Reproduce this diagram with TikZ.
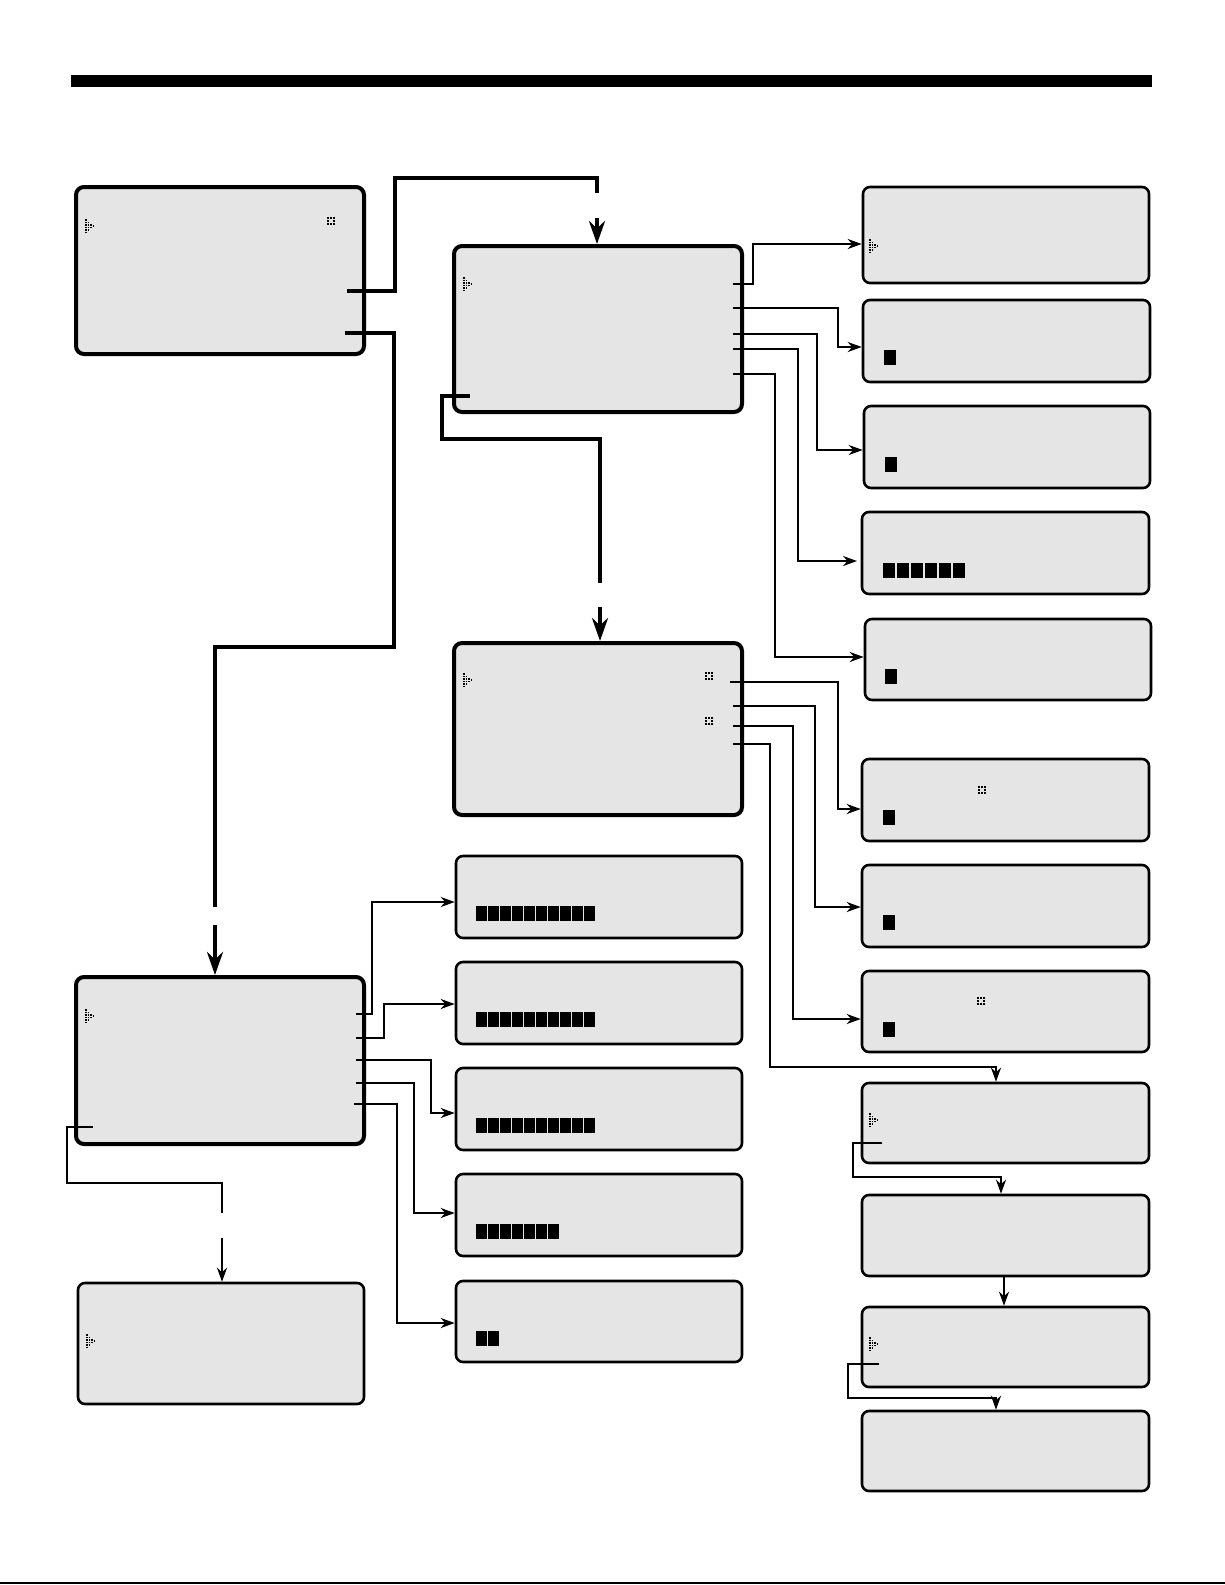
\documentclass[tikz,border=0pt]{standalone}
\usetikzlibrary{arrows.meta}
\definecolor{panel}{HTML}{E5E5E5}
\tikzset{
  thickbox/.style={draw, line width=2pt, fill=panel, rounded corners=4pt, inner sep=0pt},
  thinbox/.style={draw, line width=1.3pt, fill=panel, rounded corners=3.5pt, inner sep=0pt},
  thickline/.style={line width=2pt},
  thickarrow/.style={line width=2pt, -{Stealth[length=11.5pt,width=8pt]}},
  thinline/.style={line width=1.1pt},
  thinarrow/.style={line width=1.1pt, -{Stealth[length=7pt,width=5pt]}},
}
\newcommand\boxnode[6]{\node[#6, minimum width={(#4-#2)*0.5pt}, minimum height={(#5-#3)*0.5pt}] (#1) at ({(#2+#4)/2},{(#3+#5)/2}) {};}
\newcommand\cursorglyph[2]{\foreach \c/\r in {0/0,0/1,0/2,0/3,0/4,0/5,1/1,1/2,1/3,1/4,2/2,2/3,3/2.5}{\fill ({#1+\c*2.5},{#2+\r*2.5}) rectangle ++(1.9,1.9);}}
\newcommand\dotsquare[2]{\foreach \c/\r in {0/0,1/0,2/0,0/1,2/1,0/2,1/2,2/2}{\fill ({#1+\c*3},{#2+\r*3}) rectangle ++(2,2);}}
\newcommand\blockrow[5]{\foreach \i in {1,...,#3}{\fill ({#1+(\i-1)*#4},#2) rectangle ++(#5,15);}}
\begin{document}
\begin{tikzpicture}[x=0.5pt,y=-0.5pt]
\useasboundingbox (0,0) rectangle (1225,1585);
% top bar and bottom rule
\fill (71,75) rectangle (1152,87);
\draw[line width=1pt] (0,1583) -- (1225,1583);

% main screens
\boxnode{A}{76}{187}{364}{354}{thickbox}
\boxnode{B}{454}{246}{742}{412}{thickbox}
\boxnode{C}{454}{643}{742}{815}{thickbox}
\boxnode{D}{76}{977}{364}{1144}{thickbox}
\boxnode{E}{78}{1283}{364}{1404}{thinbox}
% middle column
\boxnode{M1}{456}{856}{742}{938}{thinbox}
\boxnode{M2}{456}{962}{742}{1044}{thinbox}
\boxnode{M3}{456}{1068}{742}{1150}{thinbox}
\boxnode{M4}{456}{1174}{742}{1256}{thinbox}
\boxnode{M5}{456}{1281}{742}{1362}{thinbox}
% right column
\boxnode{R1}{863}{187}{1149}{283}{thinbox}
\boxnode{R2}{863}{300}{1150}{382}{thinbox}
\boxnode{R3}{864}{406}{1150}{488}{thinbox}
\boxnode{R4}{862}{512}{1149}{594}{thinbox}
\boxnode{R5}{865}{619}{1151}{700}{thinbox}
\boxnode{R6}{862}{759}{1149}{841}{thinbox}
\boxnode{R7}{862}{865}{1149}{947}{thinbox}
\boxnode{R8}{862}{971}{1149}{1052}{thinbox}
\boxnode{R9}{862}{1083}{1149}{1163}{thinbox}
\boxnode{R10}{862}{1195}{1149}{1276}{thinbox}
\boxnode{R11}{862}{1307}{1149}{1387}{thinbox}
\boxnode{R12}{862}{1411}{1149}{1491}{thinbox}

% glyphs: cursors
\cursorglyph{85}{219}
\cursorglyph{463}{277}
\cursorglyph{463}{673}
\cursorglyph{85}{1009}
\cursorglyph{86}{1334}
\cursorglyph{869}{239}
\cursorglyph{869}{1113}
\cursorglyph{869}{1337}
% dotted squares
\dotsquare{327}{217}
\dotsquare{705}{672}
\dotsquare{705}{717}
\dotsquare{978}{786}
\dotsquare{977}{997}
% block rows
\blockrow{476}{906}{10}{12}{10.5}
\blockrow{476}{1012}{10}{12}{10.5}
\blockrow{476}{1118}{10}{12}{10.5}
\blockrow{476}{1224}{7}{12}{10.5}
\blockrow{476}{1331}{2}{12}{10.5}
\blockrow{884}{350}{1}{14}{12}
\blockrow{885}{457}{1}{14}{12}
\blockrow{883}{563}{6}{14}{12}
\blockrow{885}{669}{1}{14}{12}
\blockrow{883}{810}{1}{14}{12}
\blockrow{883}{915}{1}{14}{12}
\blockrow{883}{1022}{1}{14}{12}

% stub coordinates
\coordinate (a1) at (347,291);
\coordinate (a2) at (345,333);
\coordinate (bl) at (470,396);
\coordinate (b1) at (733,284);
\coordinate (b2) at (733,308);
\coordinate (b3) at (733,334);
\coordinate (b4) at (733,349);
\coordinate (b5) at (733,374);
\coordinate (c1) at (730,682);
\coordinate (c2) at (733,706);
\coordinate (c3) at (733,726);
\coordinate (c4) at (733,744);
\coordinate (d1) at (356,1014);
\coordinate (d2) at (356,1038);
\coordinate (d3) at (356,1060);
\coordinate (d4) at (356,1083);
\coordinate (d5) at (354,1104);
\coordinate (dl) at (93,1127);
\coordinate (r9) at (882,1143);
\coordinate (r11) at (879,1364);

% thick connectors with a break
\draw[thickline] (a1) -- (395,291) -- (395,178) -- (597,178) -- (597,193);
\draw[thickarrow] (597,218) -- (B.north -| 597,0);
\draw[thickline] (a2) -- (394,333) -- (394,647) -- (215,647) -- (215,907);
\draw[thickarrow] (215,925) -- (D.north -| 215,0);
\draw[thickline] (bl) -- (442,396) -- (442,439) -- (600,439) -- (600,583);
\draw[thickarrow] (600,607) -- (C.north -| 600,0);
\draw[thinline] (dl) -- (67,1127) -- (67,1183) -- (222,1183) -- (222,1213);
\draw[thinarrow] (222,1238) -- (E.north -| 222,0);

% B to right column
\draw[thinarrow] (b1) -- (753,284) -- (753,244) -- (R1.west |- 0,244);
\draw[thinarrow] (b2) -- (838,308) -- (838,347) -- (R2.west |- 0,347);
\draw[thinarrow] (b3) -- (817,334) -- (817,450) -- (R3.west |- 0,450);
\draw[thinarrow] (b4) -- (798,349) -- (798,561) -- (857,561);
\draw[thinarrow] (b5) -- (775,374) -- (775,657) -- (R5.west |- 0,657);
% C to right column
\draw[thinarrow] (c1) -- (838,682) -- (838,809) -- (R6.west |- 0,809);
\draw[thinarrow] (c2) -- (815,706) -- (815,907) -- (R7.west |- 0,907);
\draw[thinarrow] (c3) -- (793,726) -- (793,1019) -- (R8.west |- 0,1019);
\draw[thinarrow] (c4) -- (770,744) -- (770,1067) -- (996,1067) -- (R9.north -| 996,0);
% right column chain
\draw[thinarrow] (r9) -- (853,1143) -- (853,1177) -- (1001,1177) -- (R10.north -| 1001,0);
\draw[thinarrow] (R10.south -| 1004,0) -- (R11.north -| 1004,0);
\draw[thinarrow] (r11) -- (848,1364) -- (848,1398) -- (996,1398) -- (R12.north -| 996,0);
% D to middle column
\draw[thinarrow] (d1) -- (372,1014) -- (372,902) -- (M1.west |- 0,902);
\draw[thinarrow] (d2) -- (384,1038) -- (384,1004) -- (M2.west |- 0,1004);
\draw[thinarrow] (d3) -- (431,1060) -- (431,1113) -- (M3.west |- 0,1113);
\draw[thinarrow] (d4) -- (414,1083) -- (414,1213) -- (M4.west |- 0,1213);
\draw[thinarrow] (d5) -- (397,1104) -- (397,1323) -- (M5.west |- 0,1323);
\end{tikzpicture}
\end{document}
